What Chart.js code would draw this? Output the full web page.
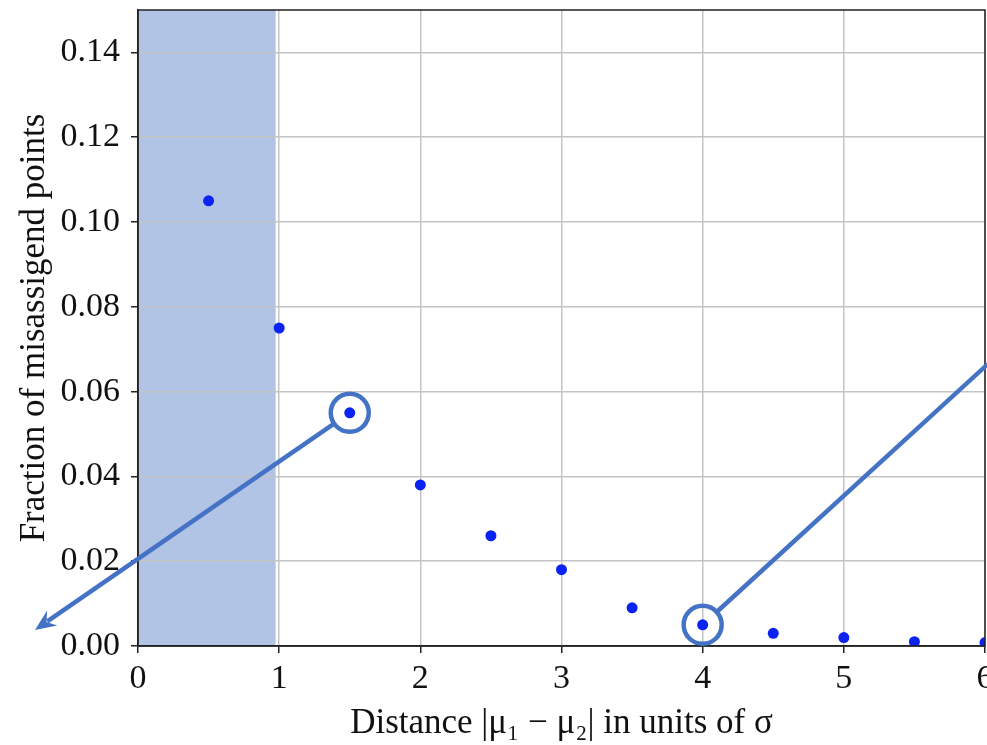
<!DOCTYPE html>
<html>
<head>
<meta charset="utf-8">
<script src="https://cdn.jsdelivr.net/npm/chart.js@4/dist/chart.umd.min.js"></script>
<style>
  html, body { margin: 0; padding: 0; background: #ffffff; overflow: hidden; }
  #wrap { width: 987px; height: 745px; position: relative; }
  canvas { display: block; }
</style>
</head>
<body>
<div id="wrap"><canvas id="chart"></canvas></div>
<script>
// data
const distances = [0.5, 1, 1.5, 2, 2.5, 3, 3.5, 4, 4.5, 5, 5.5, 6];
const misassigned = [0.105, 0.075, 0.055, 0.038, 0.026, 0.018, 0.009, 0.005, 0.003, 0.002, 0.001, 0.0008];
const xTicks = [0, 1, 2, 3, 4, 5, 6];
const yTicks = [0, 0.02, 0.04, 0.06, 0.08, 0.10, 0.12, 0.14];

// shaded band and annotation anchors (data units)
const shadeRange = [0, 0.975];
const circledPoints = [1.5, 4];
const arrowEnd = { x: -0.73, y: 0.0038 };
const lineEnd = { x: 6.02, y: 0.0665 };

const blue = "#4472c4";
const serif = "'Liberation Serif', 'DejaVu Serif', 'Times New Roman', serif";

const shadePlugin = {
  id: "shade",
  beforeDraw(chart) {
    const { ctx, chartArea, scales } = chart;
    const x0 = scales.x.getPixelForValue(shadeRange[0]);
    const x1 = scales.x.getPixelForValue(shadeRange[1]);
    ctx.save();
    ctx.fillStyle = "#b1c4e6";
    ctx.fillRect(x0, chartArea.top, x1 - x0, chartArea.bottom - chartArea.top);
    ctx.restore();
  },
};

const framePlugin = {
  id: "frame",
  afterDatasetsDraw(chart) {
    const { ctx, chartArea } = chart;
    ctx.save();
    ctx.strokeStyle = "#222222";
    ctx.lineWidth = 1.5;
    ctx.strokeRect(chartArea.left, chartArea.top, chartArea.right - chartArea.left, chartArea.bottom - chartArea.top);
    ctx.restore();
  },
};

function valueAt(x) {
  return misassigned[distances.indexOf(x)];
}

const annotatePlugin = {
  id: "annotate",
  afterDraw(chart) {
    const { ctx, scales } = chart;
    const r = 19;
    ctx.save();
    ctx.strokeStyle = blue;
    ctx.fillStyle = blue;
    ctx.lineWidth = 4.5;

    const centers = circledPoints.map(function (d) {
      return { x: scales.x.getPixelForValue(d), y: scales.y.getPixelForValue(valueAt(d)) };
    });
    centers.forEach(function (c) {
      ctx.beginPath();
      ctx.arc(c.x, c.y, r, 0, Math.PI * 2);
      ctx.stroke();
    });

    // arrow from the first circle
    const c1 = centers[0];
    const ax = scales.x.getPixelForValue(arrowEnd.x);
    const ay = scales.y.getPixelForValue(arrowEnd.y);
    let ang = Math.atan2(ay - c1.y, ax - c1.x);
    const headLen = 21;
    const headW = 9;
    ctx.beginPath();
    ctx.moveTo(c1.x + r * Math.cos(ang), c1.y + r * Math.sin(ang));
    ctx.lineTo(ax - (headLen - 6) * Math.cos(ang), ay - (headLen - 6) * Math.sin(ang));
    ctx.stroke();
    ctx.beginPath();
    ctx.moveTo(ax, ay);
    ctx.lineTo(ax - headLen * Math.cos(ang) + headW * Math.sin(ang), ay - headLen * Math.sin(ang) - headW * Math.cos(ang));
    ctx.lineTo(ax - (headLen - 7) * Math.cos(ang), ay - (headLen - 7) * Math.sin(ang));
    ctx.lineTo(ax - headLen * Math.cos(ang) - headW * Math.sin(ang), ay - headLen * Math.sin(ang) + headW * Math.cos(ang));
    ctx.closePath();
    ctx.fill();

    // line from the second circle
    const c2 = centers[1];
    const lx = scales.x.getPixelForValue(lineEnd.x);
    const ly = scales.y.getPixelForValue(lineEnd.y);
    ang = Math.atan2(ly - c2.y, lx - c2.x);
    ctx.beginPath();
    ctx.moveTo(c2.x + r * Math.cos(ang), c2.y + r * Math.sin(ang));
    ctx.lineTo(lx, ly);
    ctx.stroke();
    ctx.restore();
  },
};

const ctx = document.getElementById("chart").getContext("2d");

new Chart(ctx, {
  type: "scatter",
  data: {
    datasets: [
      {
        label: "misassigned",
        data: distances.map(function (d, i) { return { x: d, y: misassigned[i] }; }),
        backgroundColor: "#0a22f2",
        borderWidth: 0,
        pointRadius: 5.5,
      },
    ],
  },
  options: {
    responsive: true,
    maintainAspectRatio: false,
    animation: false,
    layout: { autoPadding: false, padding: { top: 10, right: 2, left: 0, bottom: 0 } },
    plugins: {
      legend: { display: false },
      tooltip: { enabled: false },
    },
    scales: {
      x: {
        type: "linear",
        min: 0,
        max: 6,
        afterBuildTicks(scale) {
          scale.ticks = xTicks.map(function (v) { return { value: v }; });
        },
        afterFit(scale) {
          scale.height = 99;
          scale.paddingRight = 0;
          scale.paddingLeft = 0;
        },
        ticks: {
          color: "#111111",
          font: { family: serif, size: 34 },
          padding: 6,
          maxRotation: 0,
          autoSkip: false,
        },
        grid: { color: "#c4c4c4", lineWidth: 1.5, tickColor: "#222222", tickLength: 7 },
        border: { color: "#222222", width: 1.5 },
        title: {
          display: true,
          text: "Distance |μ₁ − μ₂| in units of σ",
          color: "#111111",
          font: { family: serif, size: 35 },
          padding: { top: 8, bottom: 0 },
        },
      },
      y: {
        type: "linear",
        min: 0,
        max: 0.15,
        afterBuildTicks(scale) {
          scale.ticks = yTicks.map(function (v) { return { value: v }; });
        },
        afterFit(scale) {
          scale.width = 138;
          scale.paddingTop = 0;
          scale.paddingBottom = 0;
        },
        ticks: {
          color: "#111111",
          font: { family: serif, size: 34 },
          padding: 11,
          callback: function (v) { return v.toFixed(2); },
        },
        grid: { color: "#c4c4c4", lineWidth: 1.5, tickColor: "#222222", tickLength: 7 },
        border: { color: "#222222", width: 1.5 },
        title: {
          display: true,
          text: "Fraction of misassigend points",
          color: "#111111",
          font: { family: serif, size: 35 },
          padding: { top: 14, bottom: 0 },
        },
      },
    },
  },
  plugins: [shadePlugin, framePlugin, annotatePlugin],
});
</script>
</body>
</html>
